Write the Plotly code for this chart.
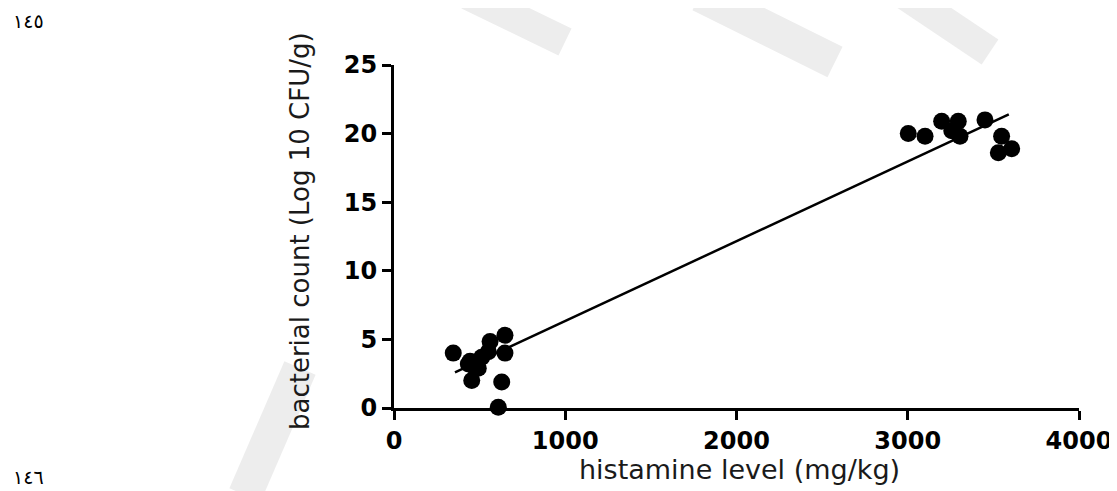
import plotly.graph_objects as go

# ---- data ----
histamine = [346, 434, 444, 470, 492, 512, 454, 629, 609, 561, 648, 551, 648,
             3003, 3101, 3198, 3295, 3257, 3305, 3451, 3548, 3529, 3607]
bacteria = [4.0, 3.2, 3.4, 3.0, 2.9, 3.7, 2.0, 1.9, 0.05, 4.85, 5.3, 4.1, 4.0,
            20.0, 19.8, 20.9, 20.9, 20.2, 19.8, 21.0, 19.8, 18.6, 18.9]
fit_x = [356, 3590]
fit_y = [2.6, 21.4]
x_ticks = [0, 1000, 2000, 3000, 4000]
y_ticks = [0, 5, 10, 15, 20, 25]
x_title = "histamine level (mg/kg)"
y_title = "bacterial count (Log 10 CFU/g)"
page_top = "١٤٥"
page_bottom = "١٤٦"

W, H = 1117, 491
OFF = 8  # page body margin
# target plot area in screen pixels: x 394..1079, y 65..408
L, T = 394 - OFF, 65 - OFF
R = W - (1079 - OFF)
B = H - (408 - OFF)
PW, PH = W - L - R, H - T - B


def px(x):
    return (x - OFF - L) / PW


def py(y):
    return (H - B - (y - OFF)) / PH


fig = go.Figure()

# faint watermark strokes (decoration)
wm = [((300, 368), (245, 495), 34), ((468, -5), (565, 42), 30),
      ((700, -5), (835, 62), 34), ((905, -5), (990, 52), 30)]
for (x0, y0), (x1, y1), w in wm:
    fig.add_shape(type="line", xref="paper", yref="paper",
                  x0=px(x0), y0=py(y0), x1=px(x1), y1=py(y1),
                  line=dict(color="#ededed", width=w), layer="below")

fig.add_trace(go.Scatter(x=fit_x, y=fit_y, mode="lines",
                         line=dict(color="black", width=2.5),
                         showlegend=False, hoverinfo="skip"))
fig.add_trace(go.Scatter(x=histamine, y=bacteria, mode="markers",
                         marker=dict(color="black", size=17),
                         cliponaxis=False, showlegend=False))

tickfont = dict(family="DejaVu Sans", size=24, color="black", weight="bold")
fig.update_xaxes(range=[0, 4000], tickvals=x_ticks, showline=True,
                 linecolor="black", linewidth=3, ticks="outside", ticklen=9,
                 tickwidth=2.5, tickcolor="black", showgrid=False,
                 zeroline=False, tickfont=tickfont)
fig.update_yaxes(range=[0, 25], tickvals=y_ticks, showline=True,
                 linecolor="black", linewidth=3, ticks="outside", ticklen=9,
                 tickwidth=2.5, tickcolor="black", showgrid=False,
                 zeroline=False, tickfont=tickfont)

ann = [
    dict(text=x_title, x=px(739), y=py(470), textangle=0, yanchor="middle",
         font=dict(family="DejaVu Sans", size=27, color="#1a1a1a")),
    dict(text=y_title, x=px(300), y=py(231), textangle=-90, yanchor="middle",
         font=dict(family="DejaVu Sans", size=26, color="#1a1a1a")),
    dict(text=page_top, x=px(28), y=py(9), textangle=0, yanchor="top",
         font=dict(family="DejaVu Sans", size=19, color="black")),
    dict(text=page_bottom, x=px(28), y=py(477), textangle=0, yanchor="middle",
         font=dict(family="DejaVu Sans", size=19, color="black")),
]
for a in ann:
    fig.add_annotation(xref="paper", yref="paper", showarrow=False,
                       xanchor="center", borderpad=0, **a)

fig.update_layout(width=W, height=H, margin=dict(l=L, r=R, t=T, b=B),
                  paper_bgcolor="white", plot_bgcolor="white")

fig.write_html("out.html")
